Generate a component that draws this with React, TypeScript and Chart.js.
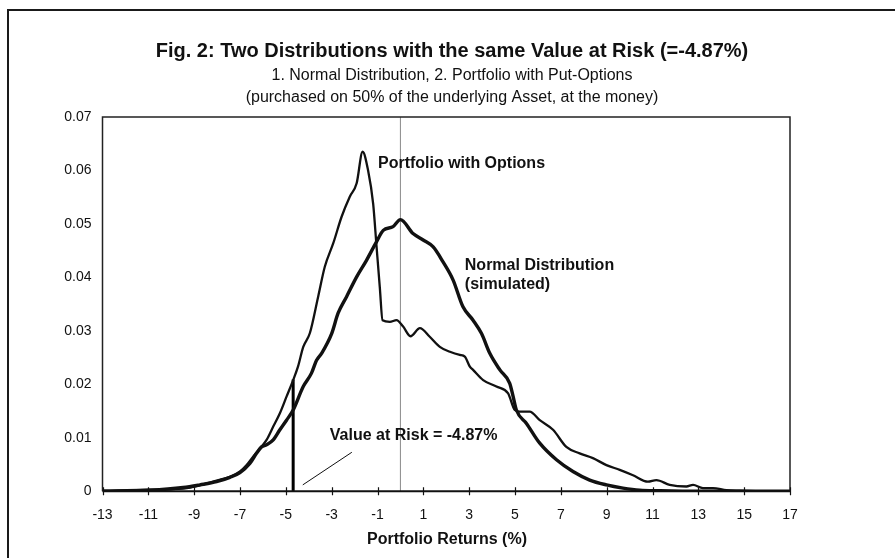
import { useEffect, useRef } from "react";
import { Chart, registerables } from "chart.js";

Chart.register(...registerables);

const FONT = '"Liberation Sans", Arial, Helvetica, sans-serif';

const titleText = "Fig. 2: Two Distributions with the same Value at Risk (=-4.87%)";
const subtitleLines = [
  "1. Normal Distribution, 2. Portfolio with Put-Options",
  "(purchased on 50% of the underlying Asset, at the money)",
];
const xAxisTitle = "Portfolio Returns (%)";

const xTicks = [-13, -11, -9, -7, -5, -3, -1, 1, 3, 5, 7, 9, 11, 13, 15, 17];
const yTicks = [0, 0.01, 0.02, 0.03, 0.04, 0.05, 0.06, 0.07];

// Portfolio with put-options (simulated density)
const portfolioReturns = [
  -13, -11.94, -10.93, -9.91, -9.18, -8.6, -8.02, -7.44, -7.0, -6.71, -6.42, -6.13,
  -5.84, -5.55, -5.26, -4.97, -4.68, -4.47, -4.24, -3.95, -3.59, -3.3, -2.93, -2.57,
  -2.21, -1.91, -1.65, -1.41, -1.19, -1.04, -0.9, -0.78, -0.46, -0.17, 0.12, 0.44,
  0.85, 1.28, 1.72, 2.16, 2.59, 2.81, 3.03, 3.17, 3.61, 4.19, 4.7, 4.99, 5.21, 5.64,
  6.08, 6.66, 7.24, 7.82, 8.4, 8.99, 9.57, 10.15, 10.8, 11.17, 11.75, 12.48, 12.77,
  13.2, 13.64, 14.22, 14.8, 16, 17,
];
const portfolioDensity = [
  0.0001, 0.0002, 0.0003, 0.0004, 0.0007, 0.0013, 0.002, 0.0027, 0.0037, 0.0049, 0.0065, 0.008,
  0.0096, 0.0121, 0.0146, 0.0177, 0.0208, 0.0233, 0.027, 0.0296, 0.0364, 0.042, 0.0464, 0.0513,
  0.0551, 0.0576, 0.0635, 0.06, 0.0538, 0.0457, 0.0382, 0.032, 0.0317, 0.032, 0.0308, 0.029,
  0.0305, 0.0289, 0.027, 0.0261, 0.0255, 0.0252, 0.0233, 0.0227, 0.0208, 0.0196, 0.0183, 0.0152, 0.0149, 0.0149,
  0.0133, 0.0115, 0.0083, 0.0071, 0.0062, 0.0049, 0.004, 0.003, 0.0018, 0.0021, 0.0012, 0.0009, 0.0012,
  0.0006, 0.0006, 0.0002, 0.0001, 0, 0,
];

// Normal distribution (simulated)
const normalReturns = [
  -13, -10.93, -9.48, -8.75, -8.02, -7.44, -7.0, -6.57, -6.28, -6.06, -5.84, -5.55, -5.26,
  -4.97, -4.68, -4.24, -3.88, -3.66, -3.44, -3.0, -2.72, -2.35, -1.91, -1.48, -1.04, -0.75,
  -0.32, 0.0, 0.55, 0.99, 1.43, 1.86, 2.3, 2.73, 3.17, 3.54, 3.9, 4.34, 4.77, 4.92, 5.06,
  5.5, 6.08, 6.81, 7.53, 8.26, 8.99, 9.71, 10.44, 11.3, 13, 17,
];
const normalDensity = [
  0, 0.0002, 0.0007, 0.0012, 0.0018, 0.0026, 0.0035, 0.0052, 0.0071, 0.0083, 0.0087, 0.0096, 0.0115,
  0.0133, 0.0152, 0.0196, 0.0221, 0.0245, 0.0258, 0.0295, 0.0333, 0.0364, 0.0401, 0.0432, 0.0467, 0.0488,
  0.0495, 0.0508, 0.0482, 0.047, 0.0457, 0.0429, 0.0395, 0.0345, 0.032, 0.0295, 0.0258, 0.0227, 0.0202, 0.0177, 0.0152,
  0.0127, 0.009, 0.0059, 0.0037, 0.0021, 0.0012, 0.0006, 0.0002, 0.0001, 0, 0,
];

// Value-at-risk marker, mean line, label pointer
const varLineReturns = [-4.68, -4.68];
const varLineDensity = [0, 0.0209];
const meanLineReturns = [0, 0];
const meanLineDensity = [0, 0.07];
const pointerReturns = [-4.26, -2.12];
const pointerDensity = [0.0012, 0.0073];

// Annotation labels (anchored in data coordinates: left edge, vertical middle)
const labelTexts = ["Portfolio with Options", "Normal Distribution", "(simulated)", "Value at Risk = -4.87%"];
const labelReturns = [-0.98, 2.81, 2.81, -3.08];
const labelDensity = [0.0612, 0.0423, 0.0386, 0.0105];

const pts = (xs: number[], ys: number[]) => xs.map((x, i) => ({ x, y: ys[i] }));

const decorPlugin = {
  id: "decor",
  beforeDraw(chart: any) {
    const ctx = chart.ctx;
    ctx.save();
    ctx.fillStyle = "#ffffff";
    ctx.fillRect(0, 0, chart.width, chart.height);
    // outer figure frame
    ctx.strokeStyle = "#1a1a1a";
    ctx.lineWidth = 2;
    ctx.beginPath();
    ctx.moveTo(8, chart.height);
    ctx.lineTo(8, 10);
    ctx.lineTo(chart.width, 10);
    ctx.stroke();
    // titles
    ctx.fillStyle = "#111";
    ctx.textAlign = "center";
    ctx.textBaseline = "middle";
    ctx.font = `bold 20px ${FONT}`;
    ctx.fillText(titleText, 452, 51);
    ctx.font = `16px ${FONT}`;
    ctx.fillText(subtitleLines[0], 452, 76);
    ctx.fillText(subtitleLines[1], 452, 98);
    ctx.restore();
  },
  afterDatasetsDraw(chart: any) {
    const ctx = chart.ctx;
    const { left, right, top, bottom } = chart.chartArea;
    const xs = chart.scales.x;
    const ys = chart.scales.y;
    ctx.save();
    // plot frame
    ctx.strokeStyle = "#222";
    ctx.lineWidth = 1.5;
    ctx.beginPath();
    ctx.moveTo(left, bottom);
    ctx.lineTo(left, top);
    ctx.lineTo(right, top);
    ctx.lineTo(right, bottom);
    ctx.stroke();
    // x axis line and crossing tick marks
    ctx.strokeStyle = "#111";
    ctx.lineWidth = 2;
    ctx.beginPath();
    ctx.moveTo(left, bottom);
    ctx.lineTo(right, bottom);
    ctx.stroke();
    ctx.lineWidth = 1.2;
    ctx.beginPath();
    xTicks.forEach((v) => {
      const px = Math.round(xs.getPixelForValue(v)) + 0.5;
      ctx.moveTo(px, bottom - 4);
      ctx.lineTo(px, bottom + 4);
    });
    ctx.stroke();
    // annotation labels
    ctx.fillStyle = "#111";
    ctx.textAlign = "left";
    ctx.textBaseline = "middle";
    ctx.font = `bold 16px ${FONT}`;
    labelTexts.forEach((t, i) => {
      ctx.fillText(t, xs.getPixelForValue(labelReturns[i]), ys.getPixelForValue(labelDensity[i]));
    });
    // x axis title
    ctx.textAlign = "center";
    ctx.fillText(xAxisTitle, 447, 540);
    ctx.restore();
  },
};

export default function App() {
  const ref = useRef<HTMLCanvasElement | null>(null);
  useEffect(() => {
    const canvas = ref.current;
    if (!canvas) return;
    const lineBase = { pointRadius: 0, borderColor: "#111", fill: false, cubicInterpolationMode: "monotone" as const };
    const chart = new Chart(canvas, {
      type: "line",
      data: {
        datasets: [
          { ...lineBase, label: "Normal Distribution", data: pts(normalReturns, normalDensity), borderWidth: 3.4 },
          { ...lineBase, label: "Portfolio with Options", data: pts(portfolioReturns, portfolioDensity), borderWidth: 2.3 },
          { label: "Mean", data: pts(meanLineReturns, meanLineDensity), borderColor: "#8a8a8a", borderWidth: 1, pointRadius: 0, tension: 0 },
          { label: "VaR", data: pts(varLineReturns, varLineDensity), borderColor: "#000", borderWidth: 3, pointRadius: 0, tension: 0 },
          { label: "Pointer", data: pts(pointerReturns, pointerDensity), borderColor: "#111", borderWidth: 1, pointRadius: 0, tension: 0 },
        ],
      },
      options: {
        animation: false,
        responsive: false,
        devicePixelRatio: 1,
        layout: { padding: { top: 117, right: 105, bottom: 0, left: 0 } },
        plugins: { legend: { display: false }, tooltip: { enabled: false }, title: { display: false } },
        scales: {
          x: {
            type: "linear",
            min: -13,
            max: 17,
            border: { display: false },
            grid: { display: false, drawTicks: false },
            afterBuildTicks: (s: any) => {
              s.ticks = xTicks.map((v) => ({ value: v }));
            },
            afterFit: (s: any) => {
              s.height = 66.7;
            },
            ticks: {
              autoSkip: false,
              maxRotation: 0,
              padding: 15,
              color: "#111",
              font: { family: FONT, size: 14 },
              callback: (v: any) => String(v),
            },
          },
          y: {
            type: "linear",
            min: 0,
            max: 0.07,
            border: { display: false },
            grid: { display: false, drawTicks: false },
            afterBuildTicks: (s: any) => {
              s.ticks = yTicks.map((v) => ({ value: v }));
            },
            afterFit: (s: any) => {
              s.width = 102.5;
            },
            ticks: {
              padding: 11,
              color: "#111",
              font: { family: FONT, size: 14 },
              callback: (v: any) => (v === 0 ? "0" : Number(v).toFixed(2)),
            },
          },
        },
      },
      plugins: [decorPlugin],
    });
    return () => chart.destroy();
  }, []);
  return (
    <div style={{ position: "fixed", left: 0, top: 0, width: 895, height: 558, background: "#fff" }}>
      <canvas ref={ref} width={895} height={558} style={{ width: 895, height: 558, display: "block" }} />
    </div>
  );
}
